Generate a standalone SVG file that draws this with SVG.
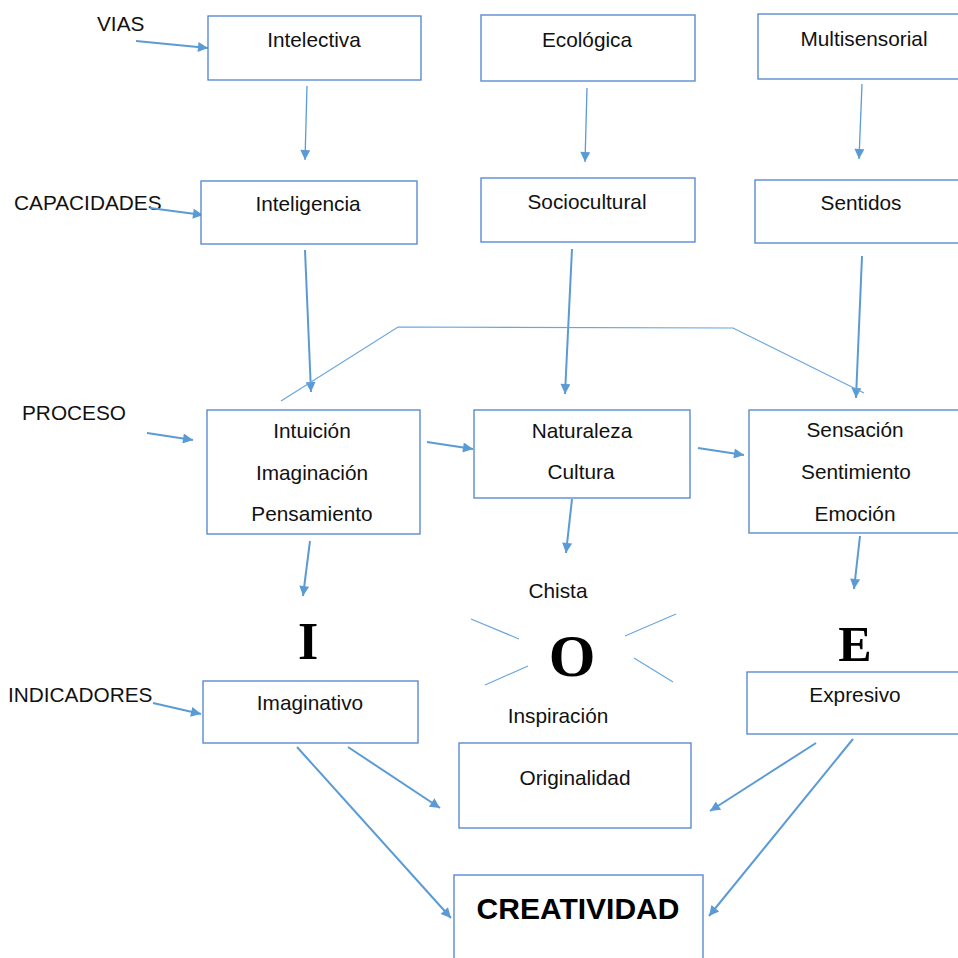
<svg xmlns="http://www.w3.org/2000/svg" width="958" height="958" viewBox="0 0 958 958">
<style>
.box{fill:#fff;stroke:#4f81d0;stroke-width:1.3}
.t{font-family:"Liberation Sans",Arial,sans-serif;font-size:20.8px;fill:#111}
.c{text-anchor:middle}
.bold{font-weight:bold;font-size:30px;fill:#000}
.big{font-family:"Liberation Serif","Times New Roman",serif;font-weight:bold;fill:#000;text-anchor:middle}
.a{fill:none;stroke:#5b9bd5;stroke-width:2;marker-end:url(#ah)}
.a1{fill:none;stroke:#5b9bd5;stroke-width:1.3;marker-end:url(#ah)}
.thin{fill:none;stroke:#6aa6dc;stroke-width:1.2}
</style>
<defs>
<marker id="ah" viewBox="0 0 10 10" refX="10" refY="5" markerWidth="12" markerHeight="10" markerUnits="userSpaceOnUse" orient="auto">
<path d="M0,0 L10,5 L0,10 z" fill="#5b9bd5"/>
</marker>
</defs>
<rect width="958" height="958" fill="#fff"/>

<g id="labels">
<text class="t" x="97" y="31">VIAS</text>
<text class="t" x="14" y="210">CAPACIDADES</text>
<text class="t" x="22" y="420">PROCESO</text>
<text class="t" x="8" y="702">INDICADORES</text>
</g>

<g id="connectors">
<path class="a" d="M136,41 L208,48"/>
<path class="a1" d="M307,86 L305,160"/>
<path class="a1" d="M587,88 L585,162"/>
<path class="a1" d="M862,84 L859,159"/>
<path class="a" d="M150,208 L203,215"/>
<path class="a" d="M305,250 L311,392"/>
<path class="a" d="M572,249 L565,394"/>
<path class="a" d="M862,256 L856,398"/>
<polyline class="thin" points="281,401 398,327 733,328 864,393"/>
<path class="a" d="M147,433 L193,440"/>
<path class="a" d="M427,442 L473,449"/>
<path class="a" d="M698,448 L744,455"/>
<path class="a" d="M310,541 L303,596"/>
<path class="a" d="M572,499 L566,553"/>
<path class="a" d="M860,536 L854,589"/>
<path class="a" d="M153,703 L201,714"/>
<path class="a" d="M348,747 L440,808"/>
<path class="a" d="M297,747 L451,918"/>
<path class="a" d="M816,743 L710,811"/>
<path class="a" d="M853,739 L709,916"/>
</g>

<g id="rays">
<line class="thin" x1="471" y1="619" x2="519" y2="639"/>
<line class="thin" x1="485" y1="685" x2="528" y2="666"/>
<line class="thin" x1="625" y1="636" x2="676" y2="614"/>
<line class="thin" x1="634" y1="658" x2="673" y2="682"/>
</g>

<g id="intelectiva"><rect class="box" x="208" y="16" width="213" height="64"/><text class="t c" x="314" y="47">Intelectiva</text></g>
<g id="ecologica"><rect class="box" x="481" y="15" width="214" height="66"/><text class="t c" x="587" y="47">Ecológica</text></g>
<g id="multisensorial"><rect class="box" x="758" y="14" width="205" height="65"/><text class="t c" x="864" y="46">Multisensorial</text></g>

<g id="inteligencia"><rect class="box" x="201" y="181" width="216" height="63"/><text class="t c" x="308" y="211">Inteligencia</text></g>
<g id="sociocultural"><rect class="box" x="481" y="178" width="214" height="64"/><text class="t c" x="587" y="209">Sociocultural</text></g>
<g id="sentidos"><rect class="box" x="755" y="180" width="208" height="63"/><text class="t c" x="861" y="210">Sentidos</text></g>

<g id="intuicion"><rect class="box" x="207" y="410" width="213" height="124"/>
<text class="t c" x="312" y="438">Intuición</text>
<text class="t c" x="312" y="480">Imaginación</text>
<text class="t c" x="312" y="521">Pensamiento</text></g>
<g id="naturaleza"><rect class="box" x="474" y="410" width="216" height="88"/>
<text class="t c" x="582" y="438">Naturaleza</text>
<text class="t c" x="581" y="479">Cultura</text></g>
<g id="sensacion"><rect class="box" x="749" y="410" width="214" height="123"/>
<text class="t c" x="855" y="437">Sensación</text>
<text class="t c" x="856" y="479">Sentimiento</text>
<text class="t c" x="855" y="521">Emoción</text></g>

<g id="letterI"><text class="big" x="308" y="659" font-size="52">I</text></g>
<g id="letterO"><text class="big" x="572" y="676" font-size="60">O</text>
<text class="t c" x="558" y="598">Chista</text>
<text class="t c" x="558" y="723">Inspiración</text></g>
<g id="letterE"><text class="big" x="855" y="661" font-size="50">E</text></g>

<g id="imaginativo"><rect class="box" x="203" y="681" width="215" height="62"/><text class="t c" x="310" y="710">Imaginativo</text></g>
<g id="originalidad"><rect class="box" x="459" y="743" width="232" height="85"/><text class="t c" x="575" y="785">Originalidad</text></g>
<g id="expresivo"><rect class="box" x="747" y="672" width="216" height="62"/><text class="t c" x="855" y="702">Expresivo</text></g>
<g id="creatividad"><rect class="box" x="454" y="875" width="249" height="95"/><text class="t c bold" x="578" y="919">CREATIVIDAD</text></g>
</svg>
